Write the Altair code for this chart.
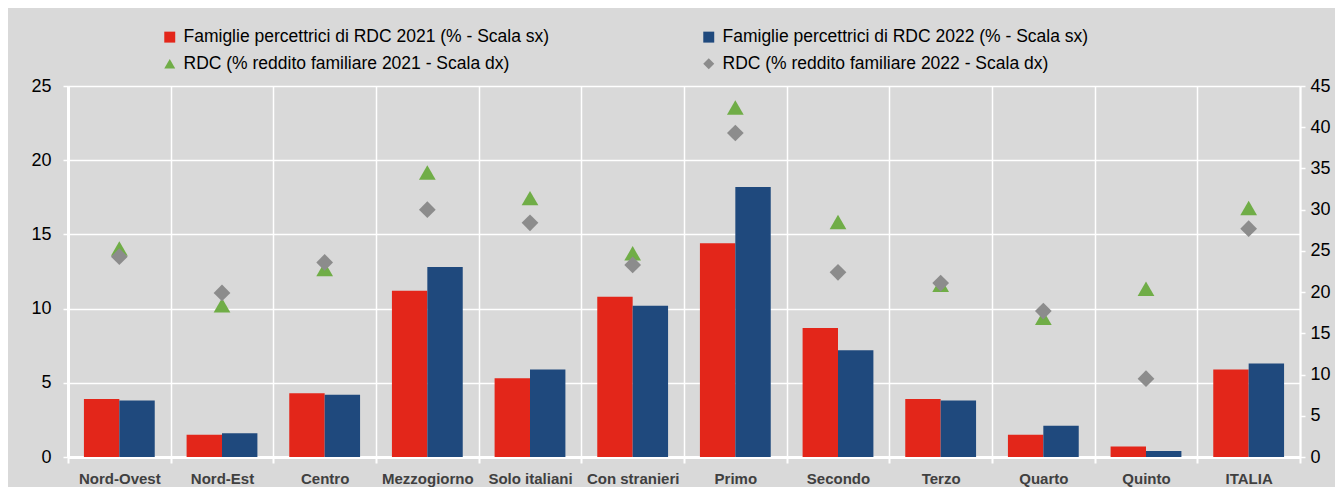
import altair as alt
import pandas as pd

categories = ["Nord-Ovest", "Nord-Est", "Centro", "Mezzogiorno", "Solo italiani",
              "Con stranieri", "Primo", "Secondo", "Terzo", "Quarto", "Quinto", "ITALIA"]
fam_2021 = [3.9, 1.5, 4.3, 11.2, 5.3, 10.8, 14.4, 8.7, 3.9, 1.5, 0.7, 5.9]
fam_2022 = [3.8, 1.6, 4.2, 12.8, 5.9, 10.2, 18.2, 7.2, 3.8, 2.1, 0.4, 6.3]
rdc_2021 = [25.3, 18.4, 22.8, 34.5, 31.4, 24.7, 42.4, 28.5, 20.9, 16.9, 20.4, 30.2]
rdc_2022 = [24.3, 19.9, 23.6, 30.0, 28.4, 23.3, 39.3, 22.4, 21.1, 17.7, 9.5, 27.7]

fam21 = "Famiglie percettrici di RDC 2021 (% - Scala sx)"
fam22 = "Famiglie percettrici di RDC 2022 (% - Scala sx)"
rdc21 = "RDC (% reddito familiare 2021 - Scala dx)"
rdc22 = "RDC (% reddito familiare 2022 - Scala dx)"
# order chosen so the 2-column legend reads like the reference
series = [fam21, rdc21, fam22, rdc22]
colors = ["#e3261a", "#70ad47", "#1f497d", "#8c8c8c"]
shapes = ["square", "triangle-up", "square", "diamond"]

bar_df = pd.DataFrame(
    [{"cat": c, "series": fam21, "value": v} for c, v in zip(categories, fam_2021)] +
    [{"cat": c, "series": fam22, "value": v} for c, v in zip(categories, fam_2022)]
)
pt_df = pd.DataFrame(
    [{"cat": c, "series": rdc21, "value": v} for c, v in zip(categories, rdc_2021)] +
    [{"cat": c, "series": rdc22, "value": v} for c, v in zip(categories, rdc_2022)]
)

FONT = "Liberation Sans, Arial"

legend = alt.Legend(
    title=None, orient="none", legendX=93, legendY=-58, columns=2,
    labelFont=FONT, labelFontSize=17.5, labelColor="#000000", labelLimit=700,
    symbolSize=120, symbolStrokeWidth=0, labelOffset=5,
    columnPadding=150, rowPadding=8, padding=0,
)

x_enc = alt.X(
    "cat:N", sort=categories,
    scale=alt.Scale(paddingInner=0, paddingOuter=0),
    axis=alt.Axis(title=None, labelAngle=0, grid=True, tickBand="extent",
                  labelFont=FONT, labelFontSize=15, labelFontWeight="bold",
                  labelColor="#404040", labelPadding=8, domainWidth=3,
                  tickSize=6, tickWidth=2),
)

bars = alt.Chart(bar_df).mark_bar(opacity=1).encode(
    x=x_enc,
    xOffset=alt.XOffset("series:N", scale=alt.Scale(domain=[fam21, fam22], paddingOuter=0.45, paddingInner=0)),
    y=alt.Y("value:Q", scale=alt.Scale(domain=[0, 25], nice=False),
            axis=alt.Axis(title=None, values=[0, 5, 10, 15, 20, 25], grid=True,
                          labelFont=FONT, labelFontSize=18, labelColor="#000000",
                          labelPadding=12, domainWidth=3)),
    color=alt.Color("series:N", scale=alt.Scale(domain=series, range=colors), legend=legend),
)

points = alt.Chart(pt_df).mark_point(filled=True, opacity=1, size=280).encode(
    x=alt.X("cat:N", sort=categories),
    y=alt.Y("value:Q", scale=alt.Scale(domain=[0, 45], nice=False),
            axis=alt.Axis(title=None, orient="right", values=list(range(0, 50, 5)), grid=False,
                          labelFont=FONT, labelFontSize=18, labelColor="#000000",
                          labelPadding=5, domainWidth=2)),
    color=alt.Color("series:N", scale=alt.Scale(domain=series, range=colors), legend=legend),
    shape=alt.Shape("series:N", scale=alt.Scale(domain=series, range=shapes), legend=legend),
)

chart = alt.layer(bars, points).resolve_scale(y="independent").properties(
    width=1232, height=371,
    padding={"left": 60, "top": 78, "right": 35, "bottom": 30},
    autosize=alt.AutoSizeParams(type="none"),
    background="#d9d9d9",
).configure_view(stroke=None).configure_axis(
    domainColor="#ffffff", tickColor="#ffffff", gridColor="#ffffff",
    gridWidth=1.5, tickWidth=1.5, tickSize=5,
)

chart.save("out.html", embed_options={"renderer": "svg", "actions": False})
